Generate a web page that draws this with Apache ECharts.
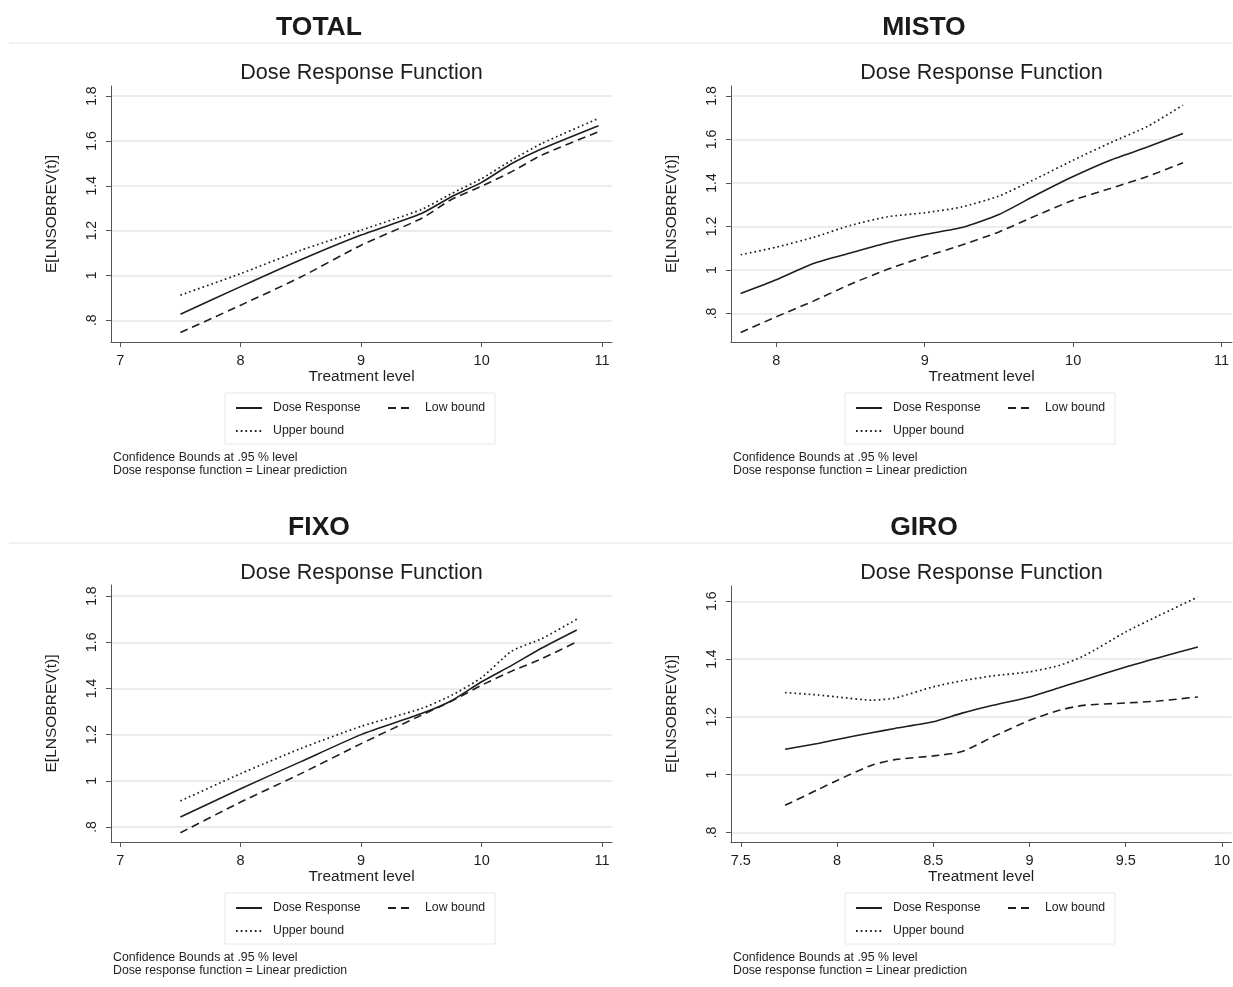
<!DOCTYPE html>
<html>
<head>
<meta charset="utf-8">
<script src="https://cdn.jsdelivr.net/npm/echarts@6/dist/echarts.min.js"></script>
<style>html,body{margin:0;padding:0;background:#fff}#c{width:1233px;height:987px}</style>
</head>
<body>
<div id="c"></div>
<script>
// ---------- DATA ----------
const panelNames = ['TOTAL', 'MISTO', 'FIXO', 'GIRO'];
const seriesNames = ['Dose Response', 'Low bound', 'Upper bound'];

const totalX     = [7.5, 8, 8.5, 9, 9.5, 9.75, 10, 10.25, 10.5, 10.97];
const totalDose  = [0.827, 0.95, 1.07, 1.18, 1.276, 1.351, 1.415, 1.499, 1.565, 1.668];
const totalLow   = [0.745, 0.867, 0.993, 1.135, 1.254, 1.339, 1.398, 1.463, 1.537, 1.641];
const totalUpper = [0.912, 1.008, 1.112, 1.202, 1.294, 1.365, 1.432, 1.514, 1.589, 1.70];

const mistoX     = [7.76, 8, 8.25, 8.5, 8.75, 9, 9.25, 9.5, 9.75, 10, 10.25, 10.5, 10.74];
const mistoDose  = [0.892, 0.955, 1.03, 1.078, 1.125, 1.163, 1.195, 1.255, 1.345, 1.43, 1.505, 1.565, 1.628];
const mistoLow   = [0.713, 0.785, 0.857, 0.935, 1.003, 1.061, 1.115, 1.175, 1.25, 1.321, 1.375, 1.43, 1.493];
const mistoUpper = [1.07, 1.105, 1.15, 1.205, 1.245, 1.263, 1.29, 1.34, 1.42, 1.505, 1.585, 1.66, 1.758];

const fixoX     = [7.5, 8, 8.5, 9, 9.5, 9.75, 10, 10.25, 10.5, 10.79];
const fixoDose  = [0.843, 0.966, 1.083, 1.2, 1.291, 1.347, 1.429, 1.5, 1.575, 1.653];
const fixoLow   = [0.775, 0.908, 1.031, 1.161, 1.284, 1.345, 1.414, 1.475, 1.529, 1.602];
const fixoUpper = [0.913, 1.031, 1.14, 1.236, 1.313, 1.37, 1.447, 1.562, 1.616, 1.70];

const giroX     = [7.73, 7.9, 8, 8.18, 8.3, 8.5, 8.65, 8.81, 9, 9.15, 9.28, 9.5, 9.67, 9.875];
const giroDose  = [1.088, 1.108, 1.122, 1.145, 1.16, 1.183, 1.213, 1.24, 1.269, 1.3, 1.327, 1.373, 1.405, 1.442];
const giroLow   = [0.894, 0.948, 0.98, 1.033, 1.052, 1.065, 1.08, 1.131, 1.188, 1.222, 1.24, 1.248, 1.255, 1.269];
const giroUpper = [1.284, 1.276, 1.269, 1.258, 1.265, 1.304, 1.325, 1.342, 1.356, 1.377, 1.41, 1.494, 1.55, 1.615];

// tick labels
const xTicksTotal = [7, 8, 9, 10, 11];
const xTicksMisto = [8, 9, 10, 11];
const xTicksFixo  = [7, 8, 9, 10, 11];
const xTicksGiro  = [7.5, 8, 8.5, 9, 9.5, 10];
const yTicks18 = [0.8, 1, 1.2, 1.4, 1.6, 1.8];
const yTicks16 = [0.8, 1, 1.2, 1.4, 1.6];

// axis ranges [xmin, xmax, ymin, ymax]
const rangeTotal = [6.924, 11.082, 0.703, 1.845];
const rangeMisto = [7.695, 11.07, 0.669, 1.846];
const rangeFixo  = [6.924, 11.082, 0.735, 1.848];
const rangeGiro  = [7.449, 10.049, 0.767, 1.653];

// ---------- LAYOUT / STYLE ----------
const FONT = "'Liberation Sans', Arial, sans-serif";
const panels = [
  {name: panelNames[0], x: totalX, d: totalDose, lo: totalLow, up: totalUpper, xt: xTicksTotal, yt: yTicks18, r: rangeTotal, gx: 111, gy: 86, gh: 256, tx: 319, ty: 28},
  {name: panelNames[1], x: mistoX, d: mistoDose, lo: mistoLow, up: mistoUpper, xt: xTicksMisto, yt: yTicks18, r: rangeMisto, gx: 731, gy: 86, gh: 256, tx: 924, ty: 28},
  {name: panelNames[2], x: fixoX, d: fixoDose, lo: fixoLow, up: fixoUpper, xt: xTicksFixo, yt: yTicks18, r: rangeFixo, gx: 111, gy: 585, gh: 257, tx: 319, ty: 528},
  {name: panelNames[3], x: giroX, d: giroDose, lo: giroLow, up: giroUpper, xt: xTicksGiro, yt: yTicks16, r: rangeGiro, gx: 731, gy: 586, gh: 256, tx: 924, ty: 528}
];
const GW = 501;
const INK = '#1e1e1e';
const lineStyles = {
  'Dose Response': {color: INK, width: 1.6, type: 'solid'},
  'Low bound':     {color: INK, width: 1.6, type: [8, 5]},
  'Upper bound':   {color: INK, width: 1.7, type: [1.7, 3.0]}
};
const fmt = v => String(v).replace(/^0\./, '.');

const grid = [], xAxis = [], yAxis = [], series = [], legend = [], graphic = [];
const legendText = {fontFamily: FONT, fontSize: 12.3, color: INK, padding: [0, 0, 0, 6]};
const legendCommon = {padding: 0, itemWidth: 26, itemHeight: 14, itemGap: 11, selectedMode: false,
  itemStyle: {color: 'rgba(0,0,0,0)', borderWidth: 0, opacity: 0}, textStyle: legendText};

panels.forEach((p, i) => {
  grid.push({left: p.gx, top: p.gy, width: GW, height: p.gh});
  xAxis.push({
    type: 'value', gridIndex: i, min: p.r[0], max: p.r[1],
    name: 'Treatment level', nameLocation: 'middle', nameGap: 27,
    nameTextStyle: {fontFamily: FONT, fontSize: 15.5, color: INK},
    axisLine: {show: true, lineStyle: {color: '#555', width: 1}},
    axisTick: {show: true, length: 5, lineStyle: {color: '#555'}, customValues: p.xt},
    axisLabel: {customValues: p.xt, formatter: fmt, margin: 11, fontFamily: FONT, fontSize: 14.5, color: INK, showMinLabel: true, showMaxLabel: true},
    splitLine: {show: false}
  });
  yAxis.push({
    type: 'value', gridIndex: i, min: p.r[2], max: p.r[3],
    name: 'E[LNSOBREV(t)]', nameLocation: 'middle', nameGap: 51, nameRotate: 90,
    nameTextStyle: {fontFamily: FONT, fontSize: 15.5, color: INK},
    axisLine: {show: true, lineStyle: {color: '#555', width: 1}},
    axisTick: {show: true, length: 5, lineStyle: {color: '#555'}, customValues: p.yt},
    axisLabel: {customValues: p.yt, formatter: fmt, rotate: 90, margin: 12, fontFamily: FONT, fontSize: 14, color: INK},
    splitLine: {show: true, lineStyle: {color: '#e6e6e6', width: 1.5}}
  });
  [[seriesNames[0], p.d], [seriesNames[1], p.lo], [seriesNames[2], p.up]].forEach(([nm, vals]) => {
    series.push({
      type: 'line', name: nm, xAxisIndex: i, yAxisIndex: i,
      data: p.x.map((x, k) => [x, vals[k]]),
      symbol: 'none', smooth: 0.2, silent: true, animation: false,
      itemStyle: {color: INK},
      lineStyle: lineStyles[nm]
    });
  });
  const cx = p.gx + GW / 2;
  // big title
  graphic.push({type: 'text', x: p.tx, y: p.ty, style: {text: p.name, font: 'bold 26.5px ' + FONT, fill: '#1a1a1a', align: 'center', verticalAlign: 'middle'}});
  // subtitle
  graphic.push({type: 'text', x: cx, y: p.ty + 45, style: {text: 'Dose Response Function', font: '21.6px ' + FONT, fill: INK, align: 'center', verticalAlign: 'middle'}});
  // legend box
  const by = p.gy + p.gh + 51;
  graphic.push({type: 'rect', shape: {x: p.gx + 114, y: by, width: 270, height: 51}, style: {fill: 'none', stroke: '#e8e8e8', lineWidth: 1}});
  legend.push(Object.assign({}, legendCommon, {
    left: p.gx + 124, top: by + 9, orient: 'vertical',
    data: [seriesNames[0], seriesNames[2]]
  }));
  legend.push(Object.assign({}, legendCommon, {
    left: p.gx + 276, top: by + 9, orient: 'vertical',
    data: [seriesNames[1]]
  }));
  // notes
  graphic.push({type: 'text', x: p.gx + 2, y: by + 65, style: {text: 'Confidence Bounds at .95 % level', font: '12.3px ' + FONT, fill: INK, align: 'left', verticalAlign: 'middle'}});
  graphic.push({type: 'text', x: p.gx + 2, y: by + 78, style: {text: 'Dose response function = Linear prediction', font: '12.3px ' + FONT, fill: INK, align: 'left', verticalAlign: 'middle'}});
});
// separators
graphic.push({type: 'line', shape: {x1: 9, y1: 43, x2: 1233, y2: 43}, style: {stroke: '#ececec', lineWidth: 1.5}});
graphic.push({type: 'line', shape: {x1: 9, y1: 543, x2: 1233, y2: 543}, style: {stroke: '#ececec', lineWidth: 1.5}});

const chart = echarts.init(document.getElementById('c'), null, {renderer: 'canvas'});
chart.setOption({
  backgroundColor: '#fff', animation: false,
  grid, xAxis, yAxis, series, legend, graphic
});
</script>
</body>
</html>
